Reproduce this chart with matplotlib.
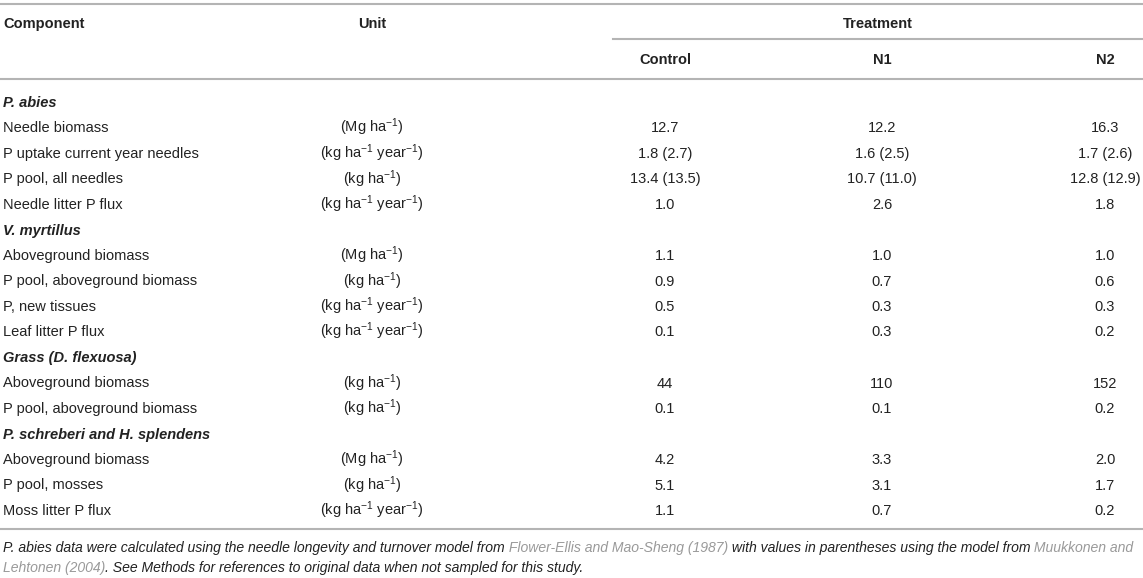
import matplotlib
matplotlib.use("Agg")
import matplotlib.pyplot as plt

plt.rcParams['font.family'] = ['Liberation Sans', 'DejaVu Sans']
plt.rcParams['mathtext.fontset'] = 'custom'
plt.rcParams['mathtext.rm'] = 'Liberation Sans'
plt.rcParams['mathtext.it'] = 'Liberation Sans:italic'
plt.rcParams['mathtext.bf'] = 'Liberation Sans:bold'
plt.rcParams['mathtext.default'] = 'regular'

# ---- table data ----
treatments = ['Control', 'N1', 'N2']
row_labels = [
    'P. abies', 'Needle biomass', 'P uptake current year needles',
    'P pool, all needles', 'Needle litter P flux',
    'V. myrtillus', 'Aboveground biomass', 'P pool, aboveground biomass',
    'P, new tissues', 'Leaf litter P flux',
    'Grass (D. flexuosa)', 'Aboveground biomass', 'P pool, aboveground biomass',
    'P. schreberi and H. splendens', 'Aboveground biomass', 'P pool, mosses',
    'Moss litter P flux',
]
MG = r'(Mg ha$^{-1}$)'
KG = r'(kg ha$^{-1}$)'
KGY = r'(kg ha$^{-1}$ year$^{-1}$)'
row_units = ['', MG, KGY, KG, KGY,
             '', MG, KG, KGY, KGY,
             '', KG, KG,
             '', MG, KG, KGY]
control = ['', '12.7', '1.8 (2.7)', '13.4 (13.5)', '1.0',
           '', '1.1', '0.9', '0.5', '0.1',
           '', '44', '0.1',
           '', '4.2', '5.1', '1.1']
n1 = ['', '12.2', '1.6 (2.5)', '10.7 (11.0)', '2.6',
      '', '1.0', '0.7', '0.3', '0.3',
      '', '110', '0.1',
      '', '3.3', '3.1', '0.7']
n2 = ['', '16.3', '1.7 (2.6)', '12.8 (12.9)', '1.8',
      '', '1.0', '0.6', '0.3', '0.2',
      '', '152', '0.2',
      '', '2.0', '1.7', '0.2']

W, H = 1143, 578
TXT = '#222222'
REF = '#9a9a9a'
RULE = '#b4b4b4'
FS = 10.5
FS_NOTE = 10.1
BL = 5  # baseline offset below the visual row centre, px

fig = plt.figure(figsize=(W / 100, H / 100), dpi=100)
ax = fig.add_axes([0, 0, 1, 1])
ax.set_xlim(0, W)
ax.set_ylim(H, 0)
ax.axis('off')

x_comp, x_unit = 3, 372
x_vals = [665, 882, 1105]


def cell(x, y, s, ha='left', **kw):
    return ax.text(x, y + BL, s, fontsize=FS, color=TXT, va='baseline', ha=ha, **kw)


# header
ax.axhline(4, color=RULE, lw=1.5)
cell(x_comp, 23, 'Component', weight='bold')
cell(x_unit, 23, 'Unit', ha='center', weight='bold')
cell(878, 23, 'Treatment', ha='center', weight='bold')
ax.plot([613, W], [39, 39], color=RULE, lw=1.5)
for xv, t in zip(x_vals, treatments):
    cell(xv, 59, t, ha='center', weight='bold')
ax.axhline(79, color=RULE, lw=1.5)

# body
y0, dy = 102, 25.5
for i, lab in enumerate(row_labels):
    y = y0 + i * dy
    if row_units[i] == '':
        cell(x_comp, y, lab, weight='bold', style='italic')
        continue
    cell(x_comp, y, lab)
    cell(x_unit, y, row_units[i], ha='center')
    for xv, col in zip(x_vals, (control, n1, n2)):
        cell(xv, y, col[i], ha='center')

ax.axhline(529, color=RULE, lw=1.5)


# footnote, pieces chained so the references can be grey
def chain(prev, s, color):
    return ax.annotate(s, xy=(1, 0), xycoords=prev, va='bottom', ha='left',
                       fontsize=FS_NOTE, style='italic', color=color)


t = ax.text(x_comp, 548, 'P. abies data were calculated using the needle longevity and '
            'turnover model from', fontsize=FS_NOTE, style='italic', color=TXT, va='center')
t = chain(t, ' Flower-Ellis and Mao-Sheng (1987)', REF)
t = chain(t, ' with values in parentheses using the model from', TXT)
t = chain(t, ' Muukkonen and', REF)
t = ax.text(x_comp, 568, 'Lehtonen (2004)', fontsize=FS_NOTE, style='italic', color=REF,
            va='center')
chain(t, '. See Methods for references to original data when not sampled for this study.', TXT)

fig.savefig('out.png', dpi=100)
